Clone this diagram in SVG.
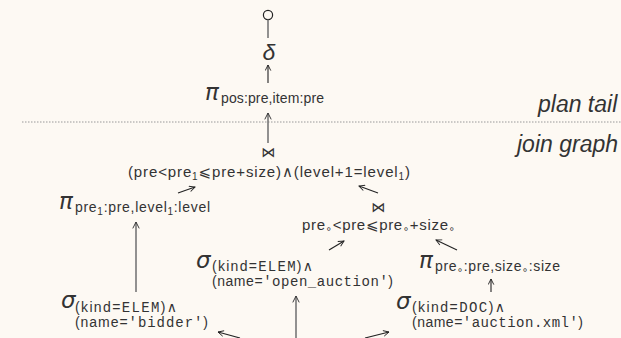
<svg xmlns="http://www.w3.org/2000/svg" width="621" height="338" viewBox="0 0 621 338">
<defs>
<marker id="ah" viewBox="0 0 10 10" refX="9" refY="5" markerWidth="7" markerHeight="7" orient="auto" markerUnits="userSpaceOnUse">
<path d="M1,1 L9,5 L1,9" fill="none" stroke="#222" stroke-width="1.3"/>
</marker>
<marker id="ahg" viewBox="0 0 10 10" refX="9" refY="5" markerWidth="8" markerHeight="8" orient="auto" markerUnits="userSpaceOnUse">
<path d="M1,1 L9,5 L1,9" fill="none" stroke="#333" stroke-width="1.2"/>
</marker>
</defs>
<style>
text{font-family:"Liberation Sans","DejaVu Sans",sans-serif;fill:#333}
.g{font-family:"DejaVu Sans",sans-serif;font-style:italic;font-size:23px}
.s{font-size:14px}
.d{font-size:10px}
.m{font-family:"Liberation Mono","DejaVu Sans Mono",monospace;font-size:14px}
.c{font-size:15px}
.lab{font-style:italic;font-size:23px}
.ln{stroke:#777;stroke-width:1.6;fill:none}
.ar{stroke:#222;stroke-width:1.1;fill:none;marker-end:url(#ah)}
.arg{stroke:#777;stroke-width:1.6;fill:none;marker-end:url(#ahg)}
</style>
<rect width="621" height="338" fill="#fdf9f3"/>

<g id="labels">
<line x1="22" y1="122" x2="621" y2="122" stroke="#999" stroke-width="1" stroke-dasharray="1.5,1.5"/>
<text class="lab" x="538" y="112">plan tail</text>
<text class="lab" x="517" y="152">join graph</text>
</g>

<g id="connectors">
<circle cx="268" cy="15" r="4.6" fill="none" stroke="#222" stroke-width="1.2"/>
<line class="ln" x1="268" y1="19.6" x2="268" y2="38"/>
<line class="ar" x1="268" y1="83" x2="268" y2="65"/>
<line class="arg" x1="268" y1="143" x2="268" y2="113"/>
<line class="ar" x1="178" y1="193" x2="195" y2="187"/>
<line class="ar" x1="378" y1="193" x2="359" y2="186"/>
<line class="arg" x1="136" y1="292" x2="136" y2="222"/>
<line class="ar" x1="329" y1="250" x2="344" y2="241"/>
<line class="ar" x1="457" y1="250" x2="436" y2="240"/>
<line class="ar" x1="491" y1="292" x2="491" y2="279"/>
<line class="arg" x1="296" y1="338" x2="296" y2="296"/>
<line class="ar" x1="240" y1="338" x2="218" y2="332"/>
<line class="ar" x1="365" y1="338" x2="389" y2="332"/>
</g>

<g id="delta"><text font-family="DejaVu Sans,sans-serif" font-style="italic" font-size="23" x="269" y="60" text-anchor="middle">δ</text></g>

<g id="proj-top">
<text class="g" x="205" y="100">π</text>
<text class="s" x="221" y="103" textLength="103" lengthAdjust="spacing">pos:pre,item:pre</text>
</g>

<g id="join-main">
<text x="268" y="157" text-anchor="middle" font-size="14">⋈</text>
<text class="c" x="128" y="177" textLength="282" lengthAdjust="spacing">(pre&lt;pre<tspan class="d" dy="3">1</tspan><tspan dy="-3">⩽pre+size)∧(level+1=level</tspan><tspan class="d" dy="3">1</tspan><tspan dy="-3">)</tspan></text>
</g>

<g id="proj-left">
<text class="g" x="59" y="209">π</text>
<text class="s" x="75" y="212" textLength="135" lengthAdjust="spacing">pre<tspan class="d" dy="3">1</tspan><tspan dy="-3">:pre,level</tspan><tspan class="d" dy="3">1</tspan><tspan dy="-3">:level</tspan></text>
</g>

<g id="join-right">
<text x="378" y="212" text-anchor="middle" font-size="14">⋈</text>
<text class="c" x="302" y="230" textLength="153" lengthAdjust="spacing">pre<tspan class="d" dy="2">∘</tspan><tspan dy="-2">&lt;pre⩽pre</tspan><tspan class="d" dy="2">∘</tspan><tspan dy="-2">+size</tspan><tspan class="d" dy="2">∘</tspan></text>
</g>

<g id="sel-open">
<text class="g" x="196" y="268">σ</text>
<text x="212" y="271" textLength="101" lengthAdjust="spacing"><tspan class="s">(kind=</tspan><tspan class="m">ELEM</tspan><tspan class="s">)∧</tspan></text>
<text x="212" y="286" textLength="181" lengthAdjust="spacing"><tspan class="s">(name=</tspan><tspan class="m">'open_auction'</tspan><tspan class="s">)</tspan></text>
</g>

<g id="proj-right">
<text class="g" x="419" y="268">π</text>
<text class="s" x="435" y="271" textLength="125" lengthAdjust="spacing">pre<tspan class="d" dy="2">∘</tspan><tspan dy="-2">:pre,size</tspan><tspan class="d" dy="2">∘</tspan><tspan dy="-2">:size</tspan></text>
</g>

<g id="sel-doc">
<text class="g" x="396" y="309">σ</text>
<text x="412" y="312" textLength="93" lengthAdjust="spacing"><tspan class="s">(kind=</tspan><tspan class="m">DOC</tspan><tspan class="s">)∧</tspan></text>
<text x="412" y="327" textLength="171" lengthAdjust="spacing"><tspan class="s">(name=</tspan><tspan class="m">'auction.xml'</tspan><tspan class="s">)</tspan></text>
</g>

<g id="sel-bidder">
<text class="g" x="61" y="308">σ</text>
<text x="75" y="312" textLength="102" lengthAdjust="spacing"><tspan class="s">(kind=</tspan><tspan class="m">ELEM</tspan><tspan class="s">)∧</tspan></text>
<text x="75" y="327" textLength="133" lengthAdjust="spacing"><tspan class="s">(name=</tspan><tspan class="m">'bidder'</tspan><tspan class="s">)</tspan></text>
</g>
</svg>
